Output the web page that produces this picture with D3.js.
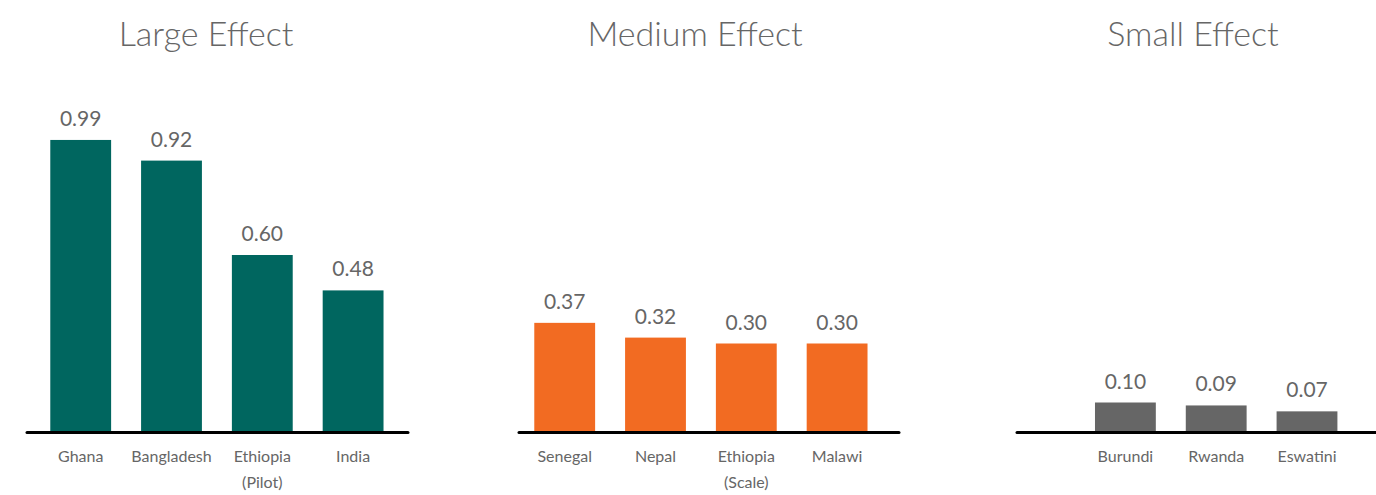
<!DOCTYPE html>
<html>
<head>
<meta charset="utf-8">
<script src="https://cdn.jsdelivr.net/npm/d3@7"></script>
<style>
  html, body { margin: 0; padding: 0; background: #fff; }
  svg { display: block; font-family: Lato, "Open Sans", sans-serif; }
</style>
</head>
<body>
<svg id="chart" width="1376" height="495"></svg>
<script>
// Effect sizes by country, grouped into three panels
const largeCountries  = ["Ghana", "Bangladesh", "Ethiopia\n(Pilot)", "India"];
const largeValues     = [0.99, 0.92, 0.60, 0.48];
const mediumCountries = ["Senegal", "Nepal", "Ethiopia\n(Scale)", "Malawi"];
const mediumValues    = [0.37, 0.32, 0.30, 0.30];
const smallCountries  = ["Burundi", "Rwanda", "Eswatini"];
const smallValues     = [0.10, 0.09, 0.07];
const panelTitles     = ["Large Effect", "Medium Effect", "Small Effect"];

const panels = [
  { title: panelTitles[0], cats: largeCountries,  vals: largeValues,  color: "#00665f",
    band: [35.3, 398.5],  line: [27, 408],   titleX: 206 },
  { title: panelTitles[1], cats: mediumCountries, vals: mediumValues, color: "#f26b22",
    band: [519.3, 882.5], line: [519, 899],  titleX: 695 },
  { title: panelTitles[2], cats: smallCountries,  vals: smallValues,  color: "#666666",
    band: [1080, 1352.4], line: [1017, 1376], titleX: 1193 }
];

const svg = d3.select("#chart");
const baseY = 432;
const y = d3.scaleLinear().domain([0, 1]).range([baseY, baseY - 295]);
const textColor = "#666666";

panels.forEach(p => {
  const g = svg.append("g");
  const x = d3.scaleBand().domain(p.cats).range(p.band).paddingInner(0.33).paddingOuter(0.165);
  const data = p.cats.map((c, i) => ({ cat: c, val: p.vals[i] }));

  // panel title
  g.append("text")
    .attr("x", p.titleX).attr("y", 46)
    .attr("text-anchor", "middle")
    .attr("font-size", 34)
    .attr("font-weight", 300)
    .attr("fill", textColor)
    .text(p.title);

  // bars
  g.selectAll("rect.bar").data(data).join("rect")
    .attr("class", "bar")
    .attr("x", d => x(d.cat))
    .attr("width", x.bandwidth())
    .attr("y", d => y(d.val))
    .attr("height", d => y(0) - y(d.val))
    .attr("fill", p.color);

  // value labels
  g.selectAll("text.val").data(data).join("text")
    .attr("class", "val")
    .attr("x", d => x(d.cat) + x.bandwidth() / 2)
    .attr("y", d => y(d.val) - 14)
    .attr("text-anchor", "middle")
    .attr("font-size", 21)
    .attr("fill", textColor)
    .text(d => d.val.toFixed(2));

  // baseline
  g.append("line")
    .attr("x1", p.line[0]).attr("x2", p.line[1])
    .attr("y1", baseY + 0.5).attr("y2", baseY + 0.5)
    .attr("stroke", "#000").attr("stroke-width", 3)
    .attr("stroke-linecap", "round");

  // category axis
  const axis = g.append("g")
    .attr("transform", `translate(0,${baseY})`)
    .call(d3.axisBottom(x).tickSize(0).tickPadding(0).tickFormat(""));
  axis.select(".domain").remove();
  axis.selectAll(".tick").each(function(d) {
    const lines = d.split("\n");
    const t = d3.select(this).append("text")
      .attr("text-anchor", "middle")
      .attr("y", 30)
      .attr("font-size", 16)
      .attr("font-family", "Lato, 'Open Sans', sans-serif")
      .attr("fill", textColor);
    lines.forEach((ln, i) => {
      t.append("tspan").attr("x", 0).attr("dy", i === 0 ? 0 : 26).text(ln);
    });
  });
});
</script>
</body>
</html>
